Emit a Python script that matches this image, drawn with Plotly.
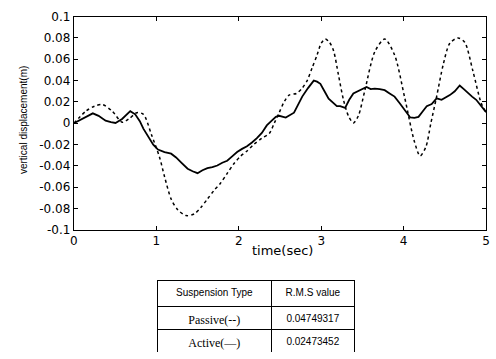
import plotly.graph_objects as go

# ---- data ----
t_active = [0, 0.10, 0.23, 0.30, 0.385, 0.45, 0.505, 0.585, 0.64, 0.684,
            0.744, 0.80, 0.843, 0.90, 0.963, 1.02, 1.10, 1.18, 1.24, 1.30,
            1.38, 1.44, 1.50, 1.56, 1.62, 1.68, 1.74, 1.80, 1.86, 1.92,
            1.98, 2.04, 2.10, 2.16, 2.22, 2.28, 2.34, 2.40, 2.45, 2.49,
            2.57, 2.67, 2.77, 2.84, 2.91, 2.95, 2.99, 3.04, 3.09, 3.19,
            3.23, 3.29, 3.34, 3.39, 3.47, 3.55, 3.60, 3.65, 3.71, 3.77,
            3.83, 3.89, 3.95, 4.01, 4.08, 4.13, 4.18, 4.23, 4.28, 4.34,
            4.40, 4.46, 4.51, 4.56, 4.62, 4.68, 4.73, 4.78, 4.83, 4.88,
            4.93, 4.98, 5.0]
y_active = [0, 0.004, 0.0093, 0.007, 0.0024, 0.001, 0.0003, 0.004, 0.008, 0.0114,
            0.0084, 0.002, -0.005, -0.012, -0.020, -0.0246, -0.027, -0.0285, -0.032, -0.0366,
            -0.0426, -0.045, -0.0468, -0.044, -0.042, -0.041, -0.0396, -0.037, -0.0351, -0.031,
            -0.027, -0.024, -0.0216, -0.018, -0.014, -0.009, -0.002, 0.0024, 0.006, 0.007,
            0.0054, 0.0099, 0.025, 0.033, 0.040, 0.039, 0.037, 0.030, 0.023, 0.016,
            0.016, 0.0144, 0.022, 0.028, 0.031, 0.034, 0.032, 0.0324, 0.032, 0.031,
            0.028, 0.025, 0.019, 0.0129, 0.0054, 0.005, 0.006, 0.011, 0.016, 0.018,
            0.0234, 0.022, 0.024, 0.0264, 0.030, 0.0354, 0.032, 0.028, 0.025, 0.022,
            0.017, 0.0114, 0.0105]

t_passive = [0, 0.147, 0.25, 0.346, 0.465, 0.585, 0.665, 0.764, 0.844, 0.943,
             1.04, 1.10, 1.18, 1.26, 1.36, 1.46, 1.54, 1.62, 1.70, 1.78,
             1.86, 1.94, 2.02, 2.10, 2.18, 2.28, 2.37, 2.43, 2.49, 2.55,
             2.61, 2.70, 2.77, 2.83, 2.89, 2.95, 3.00, 3.05, 3.10, 3.15,
             3.21, 3.27, 3.33, 3.39, 3.45, 3.53, 3.65, 3.77, 3.89, 4.01,
             4.13, 4.20, 4.27, 4.33, 4.40, 4.48, 4.56, 4.66, 4.74, 4.84,
             4.94, 5.0]
y_passive = [0, 0.0114, 0.016, 0.0175, 0.0114, 0.001, 0.004, 0.0099, 0.0084, -0.011,
             -0.032, -0.050, -0.071, -0.081, -0.0865, -0.085, -0.079, -0.071, -0.063, -0.056,
             -0.047, -0.038, -0.031, -0.026, -0.020, -0.014, -0.0096, 0.000, 0.0099, 0.020,
             0.0264, 0.028, 0.033, 0.040, 0.052, 0.064, 0.075, 0.079, 0.076, 0.068,
             0.045, 0.022, 0.0069, 0.0003, 0.0069, 0.031, 0.067, 0.079, 0.064, 0.025,
             -0.017, -0.0306, -0.022, 0.000, 0.025, 0.055, 0.075, 0.080, 0.076, 0.049,
             0.019, 0.010]

x_ticks = [0, 1, 2, 3, 4, 5]
y_ticks = [0.1, 0.08, 0.06, 0.04, 0.02, 0, -0.02, -0.04, -0.06, -0.08, -0.1]
y_tick_labels = ["0.1", "0.08", "0.06", "0.04", "0.02", "0",
                 "-0.02", "-0.04", "-0.06", "-0.08", "-0.1"]

table_header = ["Suspension Type", "R.M.S value"]
suspension_types = ["Passive(--)", "Active(\u2014)"]
rms_values = ["0.04749317", "0.02473452"]

W, H = 496, 359
fig = go.Figure()

fig.add_trace(go.Scatter(x=t_passive, y=y_passive, mode="lines",
                         line=dict(color="black", width=1.5, dash="3px,3px", shape="spline", smoothing=0.8),
                         showlegend=False))
fig.add_trace(go.Scatter(x=t_active, y=y_active, mode="lines",
                         line=dict(color="black", width=1.8),
                         showlegend=False))

fig.add_trace(go.Table(
    domain=dict(x=[156 / W, 357 / W], y=[0, 1 - 285 / H]),
    columnwidth=[116, 85],
    header=dict(values=table_header, height=26, align="center",
                line=dict(color="black", width=1), fill=dict(color="white"),
                font=dict(family="Liberation Sans", size=10, color="black")),
    cells=dict(values=[suspension_types, rms_values], height=23, align="center",
               line=dict(color="black", width=1), fill=dict(color="white"),
               font=dict(family=["Liberation Serif", "Liberation Sans"], size=[12, 10], color="black")),
))

fig.update_layout(
    width=W, height=H, autosize=False,
    margin=dict(l=0, r=0, t=0, b=0),
    paper_bgcolor="white", plot_bgcolor="white",
    font=dict(family="DejaVu Sans", size=12, color="black"),
    xaxis=dict(domain=[71 / W, 490 / W], range=[0, 5], tickvals=x_ticks,
               showgrid=False, zeroline=False, showline=True, linecolor="black",
               linewidth=1.2, mirror="ticks", ticks="inside", ticklen=4,
               tickcolor="black", tickfont=dict(family="DejaVu Sans", size=12),
               ticklabeloverflow="allow"),
    yaxis=dict(domain=[1 - 232 / H, 1 - 10 / H], range=[-0.1, 0.1],
               tickvals=y_ticks, ticktext=y_tick_labels,
               showgrid=False, zeroline=False, showline=True, linecolor="black",
               linewidth=1.2, mirror="ticks", ticks="inside", ticklen=4,
               tickcolor="black", tickfont=dict(family="DejaVu Sans", size=12),
               ticklabeloverflow="allow"),
    annotations=[
        dict(text="time(sec)", x=283 / W, y=1 - 253 / H, xref="paper", yref="paper",
             showarrow=False, xanchor="center", yanchor="middle",
             font=dict(family="DejaVu Sans", size=13)),
        dict(text="vertical displacement(m)", x=20 / W, y=1 - 118 / H, xref="paper", yref="paper",
             showarrow=False, xanchor="center", yanchor="middle", textangle=-90,
             font=dict(family="Liberation Sans", size=10)),
    ],
)

fig.write_html("out.html", config={"displayModeBar": False, "responsive": False},
               post_script="document.body.style.margin='0px';")
